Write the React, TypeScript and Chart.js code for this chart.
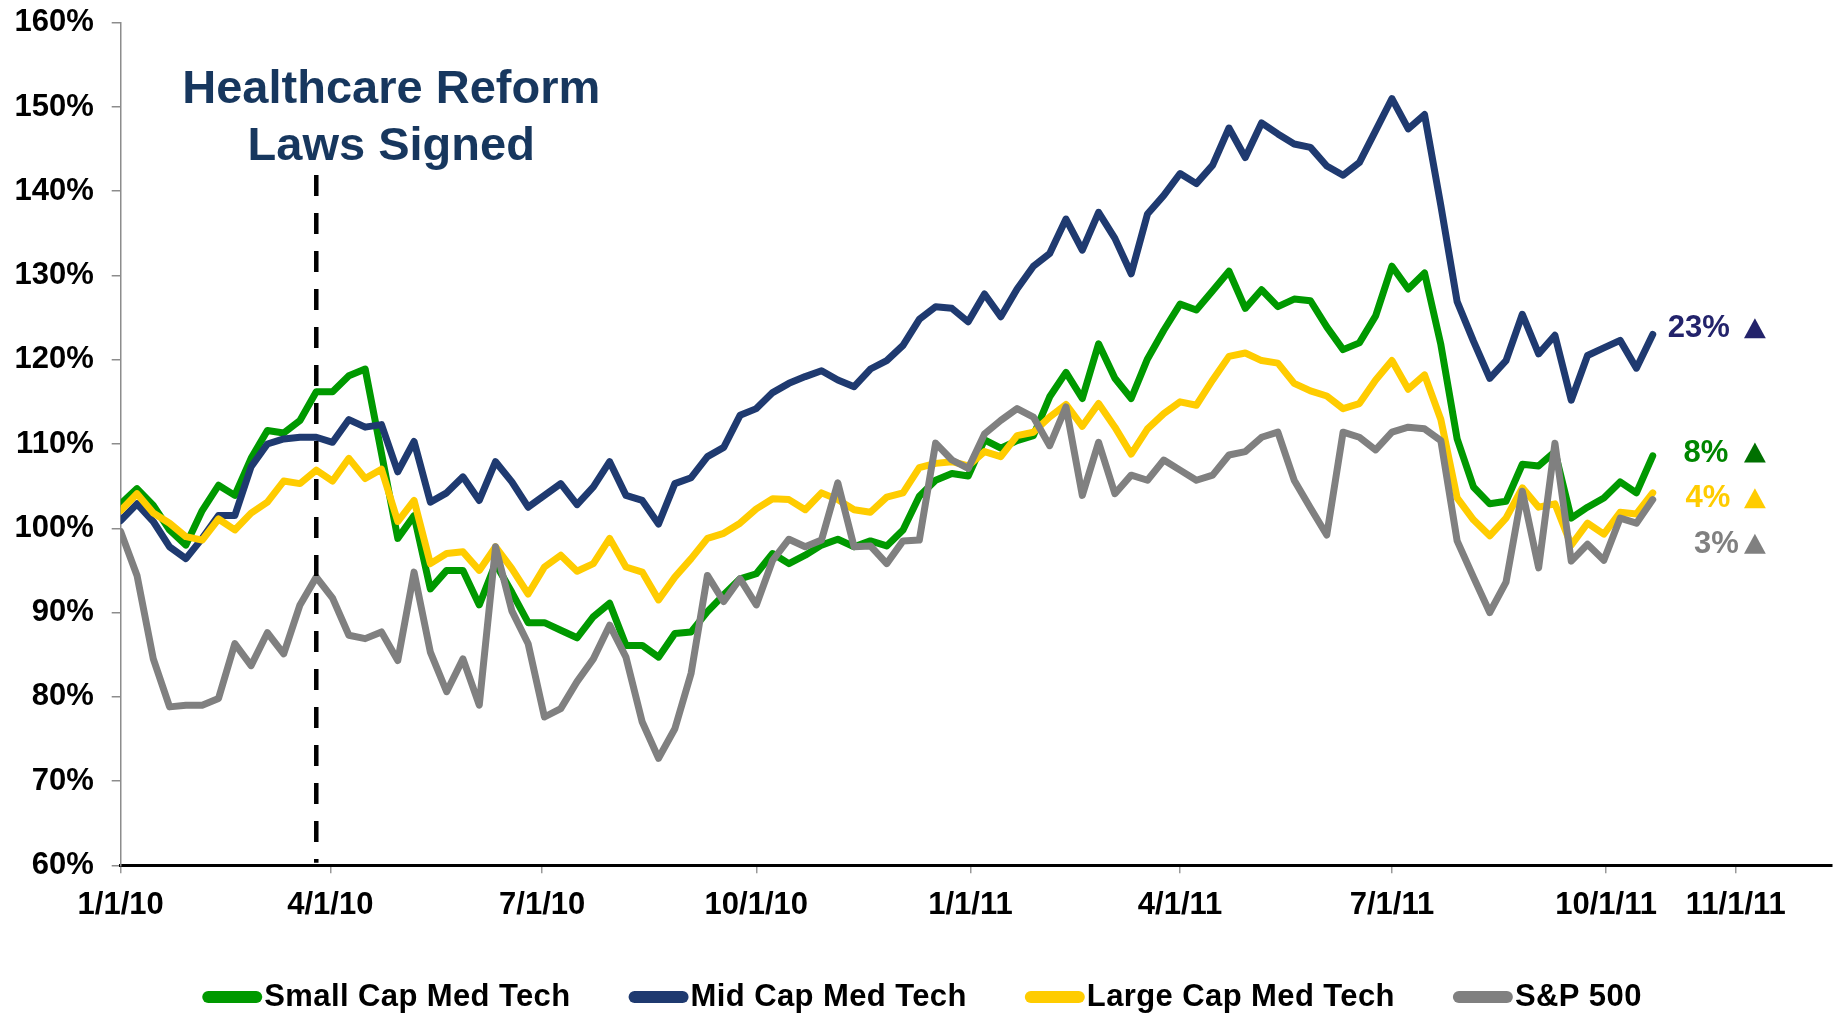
import React, { useEffect, useRef } from "react";
import { Chart, registerables } from "chart.js";

Chart.register(...registerables);

// ---------- DATA (weekly index values, 1/1/10 = week 0) ----------
const SERIES_NAMES = ["Small Cap Med Tech", "Mid Cap Med Tech", "Large Cap Med Tech", "S&P 500"];

const SMALL_CAP = [
  102.9, 104.7, 102.7, 99.8, 98.0, 102.1, 105.1, 103.9, 108.3, 111.6,
  111.3, 112.8, 116.2, 116.2, 118.1, 118.9, 108.9, 98.8, 101.5, 92.8,
  95.0, 95.0, 90.9, 95.8, 92.4, 88.8, 88.8, 87.9, 87.0, 89.5,
  91.1, 86.1, 86.1, 84.7, 87.5, 87.7, 90.1, 92.1, 94.0, 94.6,
  97.0, 95.8, 96.8, 98.0, 98.7, 97.8, 98.5, 97.9, 99.8, 103.8,
  105.7, 106.5, 106.2, 110.5, 109.5, 110.4, 111.0, 115.6, 118.5, 115.4,
  121.9, 117.8, 115.4, 120.1, 123.5, 126.6, 125.9, 128.2, 130.5, 126.1,
  128.3, 126.3, 127.2, 127.0, 123.9, 121.2, 122.0, 125.2, 131.1, 128.4,
  130.3, 121.8, 110.6, 104.9, 102.9, 103.2, 107.6, 107.4, 109.1, 101.2,
  102.5, 103.6, 105.5, 104.2, 108.6,
];

const MID_CAP = [
  100.9, 102.9, 100.8, 97.8, 96.4, 98.8, 101.5, 101.5, 107.3, 110.0,
  110.6, 110.8, 110.8, 110.2, 112.9, 112.0, 112.3, 106.7, 110.3, 103.1,
  104.2, 106.1, 103.3, 107.9, 105.5, 102.5, 103.9, 105.3, 102.8, 104.9,
  107.9, 103.9, 103.3, 100.5, 105.3, 106.0, 108.5, 109.6, 113.4, 114.2,
  116.1, 117.2, 118.0, 118.7, 117.6, 116.8, 118.9, 119.9, 121.7, 124.8,
  126.3, 126.1, 124.5, 127.8, 125.1, 128.4, 131.1, 132.6, 136.7, 133.0,
  137.5, 134.4, 130.2, 137.3, 139.5, 142.1, 140.9, 143.1, 147.5, 144.0,
  148.1, 146.8, 145.6, 145.2, 143.0, 141.9, 143.4, 147.2, 151.0, 147.4,
  149.1, 138.3, 126.9, 122.2, 117.8, 119.9, 125.4, 120.7, 122.9, 115.2,
  120.5, 121.4, 122.3, 119.0, 123.0,
];

const LARGE_CAP = [
  102.1, 104.1, 101.8, 100.6, 99.0, 98.6, 101.1, 99.8, 101.8, 103.1,
  105.6, 105.3, 106.9, 105.6, 108.3, 105.9, 107.0, 100.8, 103.3, 95.8,
  97.0, 97.2, 95.0, 97.8, 95.2, 92.2, 95.4, 96.8, 94.9, 95.8,
  98.8, 95.4, 94.8, 91.5, 94.2, 96.4, 98.8, 99.4, 100.6, 102.3,
  103.5, 103.4, 102.2, 104.2, 103.4, 102.2, 101.9, 103.7, 104.2, 107.2,
  107.7, 107.9, 107.4, 109.1, 108.5, 111.0, 111.4, 113.2, 114.7, 112.1,
  114.8, 112.0, 108.8, 111.8, 113.6, 115.0, 114.6, 117.6, 120.4, 120.8,
  119.9, 119.6, 117.2, 116.3, 115.7, 114.2, 114.8, 117.6, 119.9, 116.5,
  118.2, 112.9, 103.6, 101.0, 99.1, 101.2, 104.8, 102.5, 102.9, 98.0,
  100.6, 99.3, 101.9, 101.7, 104.2,
];

const SP500 = [
  99.6, 94.4, 84.5, 78.8, 79.0, 79.0, 79.8, 86.3, 83.7, 87.6,
  85.1, 90.9, 94.2, 91.7, 87.3, 86.9, 87.7, 84.3, 94.8, 85.3,
  80.6, 84.5, 79.0, 97.8, 90.2, 86.3, 77.6, 78.6, 81.8, 84.5,
  88.5, 84.7, 77.0, 72.7, 76.2, 82.8, 94.4, 91.3, 94.0, 90.9,
  96.2, 98.7, 97.8, 98.6, 105.4, 97.8, 97.9, 95.8, 98.5, 98.6,
  110.1, 108.1, 107.1, 111.2, 112.8, 114.2, 113.2, 109.8, 114.4, 103.9,
  110.2, 104.1, 106.3, 105.7, 108.1, 106.9, 105.7, 106.3, 108.7, 109.1,
  110.8, 111.4, 105.7, 102.4, 99.2, 111.4, 110.8, 109.3, 111.4, 112.0,
  111.8, 110.4, 98.5, 94.2, 90.0, 93.6, 104.4, 95.3, 110.1, 96.1,
  98.1, 96.2, 101.2, 100.6, 103.4,
];

const X_TICK_LABELS = ["1/1/10", "4/1/10", "7/1/10", "10/1/10", "1/1/11", "4/1/11", "7/1/11", "10/1/11", "11/1/11"];
const X_TICK_WEEKS = [0, 12.86, 25.86, 39, 52.14, 65, 78, 91.14, 99.1];

const EVENT_WEEK = 12;
const EVENT_LINES = ["Healthcare Reform", "Laws Signed"];
const CHANGE_LABELS = ["23%", "8%", "4%", "3%"];

// ---------- STYLE ----------
const FONT = "'Liberation Sans', Arial, Helvetica, sans-serif";
const LINE_COLORS = ["#009900", "#1F3A70", "#FFCC00", "#808080"];
const CHANGE_TEXT_COLORS = ["#23236B", "#008600", "#FFCC00", "#808080"];
const CHANGE_TRI_COLORS = ["#23236B", "#007000", "#FFCC00", "#808080"];
const CHANGE_Y = [123.73, 108.99, 103.56, 98.17];
const CHANGE_GAP = [25, 26.5, 24.5, 16];
const CHANGE_TRI_WEEK = 100.27;

const overlayPlugin = {
  id: "overlay",
  afterDatasetsDraw(chart: any) {
    const { ctx, scales, chartArea } = chart;
    const x = scales.x;
    const y = scales.y;
    const px = x.getPixelForValue(EVENT_WEEK);
    ctx.save();
    ctx.strokeStyle = "#000";
    ctx.lineWidth = 4.5;
    ctx.setLineDash([21, 17]);
    ctx.beginPath();
    ctx.moveTo(px, y.getPixelForValue(141.93));
    ctx.lineTo(px, chartArea.bottom - 2.5);
    ctx.stroke();
    ctx.restore();
  },
  afterDraw(chart: any) {
    const { ctx, scales } = chart;
    const x = scales.x;
    const y = scales.y;
    ctx.save();
    // event annotation
    ctx.fillStyle = "#17375E";
    ctx.font = `bold 47px ${FONT}`;
    ctx.textAlign = "center";
    ctx.textBaseline = "alphabetic";
    const ax = x.getPixelForValue(16.6);
    ctx.fillText(EVENT_LINES[0], ax, y.getPixelForValue(150.45));
    ctx.fillText(EVENT_LINES[1], ax, y.getPixelForValue(143.65));

    // change labels
    ctx.font = `bold 31px ${FONT}`;
    ctx.textAlign = "right";
    ctx.textBaseline = "middle";
    const tx = x.getPixelForValue(CHANGE_TRI_WEEK);
    CHANGE_LABELS.forEach((lab, i) => {
      const cy = y.getPixelForValue(CHANGE_Y[i]);
      ctx.fillStyle = CHANGE_TEXT_COLORS[i];
      ctx.fillText(lab, tx - CHANGE_GAP[i], cy + 0.5);
      ctx.fillStyle = CHANGE_TRI_COLORS[i];
      ctx.beginPath();
      ctx.moveTo(tx, cy - 10);
      ctx.lineTo(tx + 10.9, cy + 10);
      ctx.lineTo(tx - 10.9, cy + 10);
      ctx.closePath();
      ctx.fill();
    });

    // legend
    ctx.font = `bold 31px ${FONT}`;
    ctx.textAlign = "left";
    ctx.textBaseline = "middle";
    try {
      (ctx as any).letterSpacing = "0.4px";
    } catch (e) {
      /* ignore */
    }
    const SW = 60, G = 2, IG = 58, LY = 997;
    const widths = SERIES_NAMES.map((n) => ctx.measureText(n).width);
    const total = widths.reduce((s, w) => s + SW + G + w, 0) + IG * (SERIES_NAMES.length - 1);
    let lx = chart.width / 2 + 4 - total / 2;
    SERIES_NAMES.forEach((n, i) => {
      ctx.strokeStyle = LINE_COLORS[i];
      ctx.lineWidth = 12;
      ctx.lineCap = "round";
      ctx.beginPath();
      ctx.moveTo(lx + 6, LY);
      ctx.lineTo(lx + SW - 6, LY);
      ctx.stroke();
      ctx.fillStyle = "#000";
      ctx.fillText(n, lx + SW + G, LY + 0.5);
      lx += SW + G + widths[i] + IG;
    });
    ctx.restore();
  },
};

export default function App() {
  const ref = useRef<HTMLCanvasElement | null>(null);

  useEffect(() => {
    const canvas = ref.current;
    if (!canvas) return;
    const seriesValues = [SMALL_CAP, MID_CAP, LARGE_CAP, SP500];
    const drawOrder = [3, 2, 1, 0];
    const chart = new Chart(canvas, {
      type: "line",
      data: {
        datasets: seriesValues.map((vals, i) => ({
          label: SERIES_NAMES[i],
          data: vals.map((v, k) => ({ x: k, y: v })),
          borderColor: LINE_COLORS[i],
          backgroundColor: LINE_COLORS[i],
          borderWidth: 7,
          pointRadius: 0,
          pointHoverRadius: 0,
          tension: 0,
          borderJoinStyle: "round",
          borderCapStyle: "round",
          fill: false,
          order: drawOrder[i],
        })),
      },
      options: {
        animation: false,
        responsive: false,
        devicePixelRatio: 1,
        events: [],
        layout: { padding: { left: 0, top: 22.7, right: 4, bottom: 0 } },
        plugins: {
          legend: { display: false },
          tooltip: { enabled: false },
        },
        scales: {
          x: {
            type: "linear",
            min: 0,
            max: 105,
            afterBuildTicks: (scale: any) => {
              scale.ticks = X_TICK_WEEKS.map((v) => ({ value: v }));
            },
            afterFit: (scale: any) => {
              scale.height = 150.7;
              scale.paddingLeft = 0;
              scale.paddingRight = 0;
            },
            ticks: {
              autoSkip: false,
              maxRotation: 0,
              minRotation: 0,
              padding: 14,
              color: "#000",
              font: { family: FONT, size: 31, weight: "bold" },
              callback: (_v: any, i: number) => X_TICK_LABELS[i],
            },
            grid: {
              drawOnChartArea: false,
              drawTicks: true,
              tickLength: 8,
              color: "#999999",
              lineWidth: 1.5,
            },
            border: { display: true, color: "#000", width: 3 },
          },
          y: {
            type: "linear",
            min: 60,
            max: 160,
            afterFit: (scale: any) => {
              scale.width = 120.7;
              scale.paddingTop = 0;
              scale.paddingBottom = 0;
            },
            ticks: {
              stepSize: 10,
              padding: 18,
              color: "#000",
              font: { family: FONT, size: 31, weight: "bold" },
              callback: (v: any) => `${v}%`,
            },
            grid: {
              drawOnChartArea: false,
              drawTicks: true,
              tickLength: 9,
              color: "#8c8c8c",
              lineWidth: 1.5,
            },
            border: { display: true, color: "#8c8c8c", width: 1.5 },
          },
        },
      },
      plugins: [overlayPlugin],
    } as any);
    return () => chart.destroy();
  }, []);

  return (
    <div style={{ position: "fixed", left: 0, top: 0, width: 1836, height: 1016, background: "#fff" }}>
      <canvas ref={ref} width={1836} height={1016} style={{ display: "block", width: 1836, height: 1016 }} />
    </div>
  );
}
